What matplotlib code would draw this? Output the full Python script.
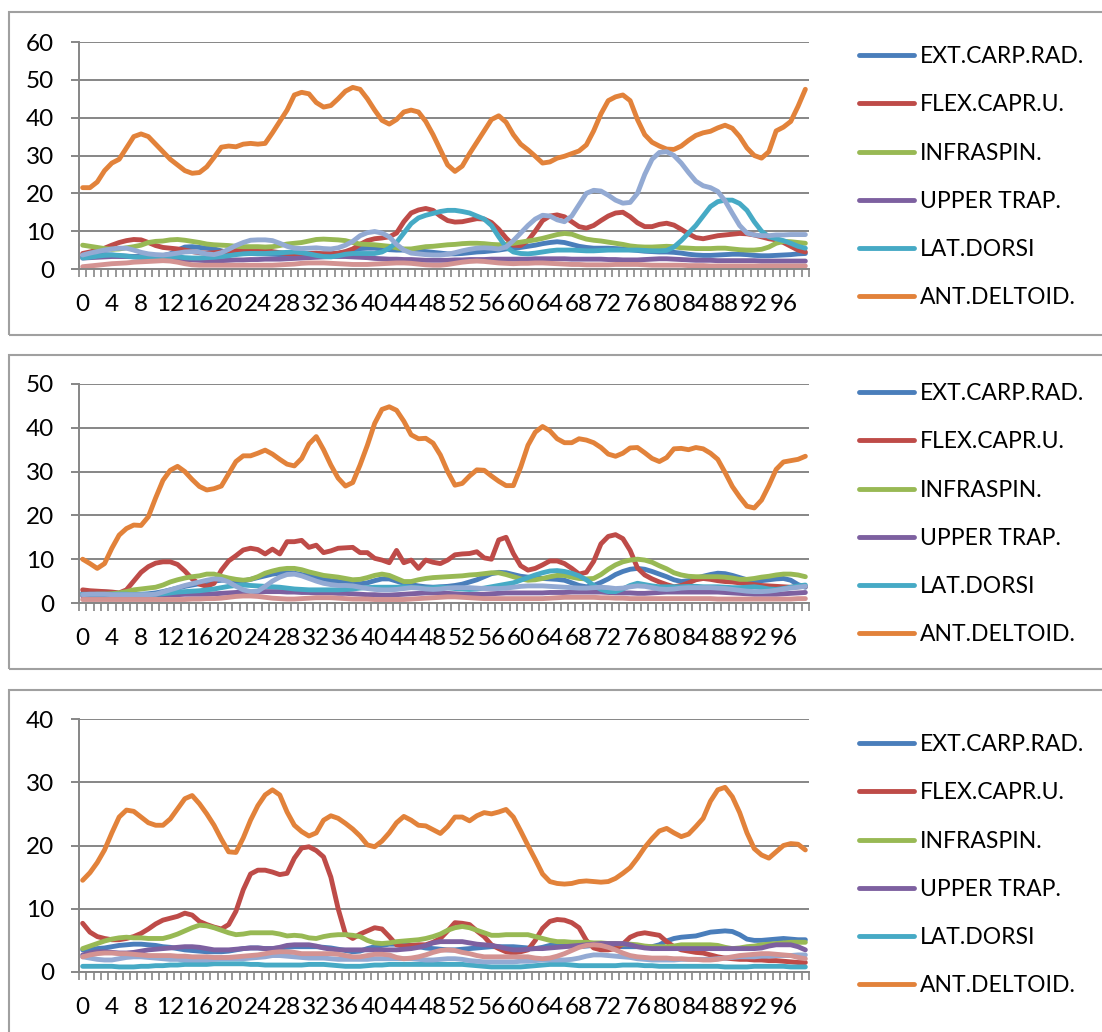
import matplotlib
matplotlib.use("Agg")
import matplotlib.pyplot as plt
from matplotlib.patches import Rectangle
import numpy as np

plt.rcParams['font.family'] = ['Lato', 'DejaVu Sans']

# ---- data ----
samples = list(range(100))
tick_labels = [str(i) for i in range(0, 100, 4)]
muscles = ["EXT.CARP.RAD.", "FLEX.CAPR.U.", "INFRASPIN.", "UPPER TRAP.",
           "LAT.DORSI", "ANT.DELTOID.", "Series7", "Series8"]

# panel 1
p1_ext = [3.3,3.5,3.7,3.8,3.7,3.5,3.4,3.3,3.3,3.3, 3.3,3.5,4,5,5.8,5.9,5.7,5.5,5.3,4.8,
          4.3,4.1,4.1,4.1,4,4,3.9,3.8,3.7,3.7, 3.7,3.8,3.9,4,4,4.1,4.5,5,5.4,5.5,
          5.5,5.3,5.1,5,5,4.9,4.8,4.6,4.4,4.2, 4,4,4.1,4.3,4.5,4.6,4.8,5,5.3,5.5,
          5.7,6,6.3,6.7,7,7.2,7,6.5,6,5.7, 5.5,5.5,5.5,5.4,5.3,5.1,4.9,4.7,4.6,4.5,
          4.5,4.4,4.2,3.9,3.7,3.6,3.6,3.7,3.8,3.9, 3.9,3.8,3.6,3.5,3.5,3.6,3.7,3.8,4,4.1]
p1_flex = [4.1,4.5,5,5.5,6.3,7,7.5,7.8,7.7,7, 6.2,5.7,5.5,5.3,5,4.6,4.3,4.2,4.3,4.5,
           4.8,5,5.2,5.3,5.2,5,4.6,4.3,4.1,4, 4,4.1,4.2,4,4,4.2,4.6,5.3,6.5,7.5,
           8,8.2,8.5,9.5,12.5,14.8,15.6,16,15.5,14, 12.8,12.4,12.5,12.9,13.3,13.2,12.3,10.5,8.2,6.3,
           6.2,7.5,10,12.8,14,14.3,13.8,12.5,11.2,10.8, 11.5,12.8,14,14.8,15,13.8,12.2,11.2,11.2,11.8,
           12.1,11.6,10.5,9.3,8.3,8,8.4,8.8,9,9.2, 9.4,9.3,9,8.5,8,7.7,7,6,5,4.5]
p1_infra = [6.3,6,5.7,5.4,5.2,5.3,5.6,5.9,6.3,7, 7.3,7.4,7.7,7.8,7.6,7.3,7,6.6,6.4,6.3,
            6.2,6,5.9,5.9,5.9,5.8,5.9,6.2,6.6,6.8, 7,7.4,7.8,7.9,7.8,7.7,7.5,7,6.6,6.5,
            6.4,6.2,6,5.6,5.3,5.3,5.6,5.9,6,6.2, 6.4,6.5,6.7,6.8,6.8,6.7,6.5,6.4,6.5,6.8,
            7.1,7.4,7.7,8.1,8.6,9.1,9.4,9.2,8.5,7.9, 7.6,7.4,7.1,6.8,6.5,6.1,5.9,5.8,5.8,5.9,
            6,5.9,5.6,5.5,5.4,5.4,5.4,5.5,5.5,5.3, 5.1,5,5,5.2,5.8,6.8,7.3,7.2,7,6.8]
p1_trap = [2.9,3.0,3.1,3.2,3.3,3.3,3.3,3.2,3.1,3.0, 2.9,2.8,2.7,2.6,2.5,2.4,2.3,2.2,2.2,2.2,
           2.3,2.4,2.4,2.5,2.5,2.6,2.6,2.6,2.7,2.8, 2.9,3.0,3.1,3.2,3.3,3.3,3.3,3.2,3.1,3.0,
           2.8,2.7,2.6,2.6,2.5,2.5,2.4,2.3,2.3,2.3, 2.3,2.4,2.4,2.5,2.5,2.5,2.6,2.6,2.6,2.6,
           2.6,2.6,2.7,2.7,2.7,2.7,2.7,2.6,2.6,2.6, 2.6,2.6,2.5,2.5,2.4,2.4,2.4,2.5,2.6,2.7,
           2.7,2.6,2.5,2.4,2.3,2.3,2.3,2.2,2.2,2.2, 2.2,2.2,2.2,2.1,2.1,2.1,2.1,2.1,2.1,2.1]
p1_dorsi = [2.9,3.1,3.4,3.6,3.7,3.6,3.4,3.2,3.1,3.1, 3.2,3.3,3.3,3.2,3,2.9,2.9,3,3.1,3.3,
            3.5,3.8,4,4.1,4.1,4.1,4.2,4.3,4.4,4.5, 4.3,4,3.6,3.3,3.2,3.5,3.9,4.1,4.1,4.1,
            4.1,4.5,5.5,7,9.5,12,13.5,14.2,14.7,15.2, 15.5,15.5,15.2,14.8,14,13.2,11.5,8.5,5.8,4.5,
            4.1,4,4.2,4.5,4.8,5,5,5,4.9,4.8, 4.8,4.9,5,5,5,5,5,4.9,4.8,4.8,
            4.9,5.8,7.5,9.5,11.5,14,16.5,17.8,18.2,18.2, 17.3,15.5,12.5,10,8.5,8,7.5,6.8,6,5.5]
p1_delt = [21.5,21.5,23,26,28,29,32,35,35.7,35, 33,31,29,27.5,26,25.3,25.5,27,29.5,32.2,
           32.5,32.3,33,33.2,33,33.2,36,39,42,46, 46.7,46.3,44,42.8,43.2,45,47,48,47.5,45,
           42,39.3,38.3,39.5,41.5,42,41.5,39,35.5,31.5, 27.5,25.8,27.2,30.5,33.5,36.5,39.5,40.5,38.8,35.5,
           33,31.5,29.8,28,28.3,29.3,29.8,30.5,31.2,32.8, 36.5,41,44.5,45.5,46,44.5,39.5,35.5,33.5,32.5,
           31.7,31.6,32.5,34,35.3,36,36.4,37.3,38,37.2, 35,32,30,29.3,31,36.5,37.5,39,43,47.5]
p1_s7 = [3.7,4.2,4.6,5,5.3,5.5,5.5,5,4.4,4, 3.8,3.7,3.9,4.2,4.5,4.6,4.4,4,3.8,4.3,
         5.2,6.2,7,7.6,7.7,7.7,7.5,6.8,6,5.5, 5.4,5.5,5.6,5.4,5.3,5.6,6.3,7.3,8.8,9.6,
         9.9,9.5,8.5,6.5,5,4.2,4,3.8,3.7,3.7, 3.9,4.3,4.8,5.2,5.5,5.6,5.5,5.3,5.8,7.5,
         9.5,11.5,13.2,14.2,14,13,12.5,14,17,20, 20.8,20.6,19.5,18.2,17.4,17.6,20,25,29,30.8,
         31,30,28,25.5,23.2,22,21.5,20.5,18,14.7, 11.5,9.5,9,8.8,8.8,9,9,9.1,9.1,9.1]
p1_s8 = [0.6,0.8,1,1.2,1.4,1.5,1.6,1.8,1.9,2, 2.1,2.2,2.1,1.8,1.4,1.1,1,1,1,1,
         1,1,1,1,1,1,1,1.1,1.2,1.3, 1.5,1.6,1.6,1.6,1.5,1.4,1.3,1.2,1.2,1.2,
         1.3,1.4,1.5,1.6,1.6,1.5,1.3,1.1,1,1, 1.2,1.5,1.8,2,2.1,2,1.8,1.6,1.5,1.4,
         1.5,1.5,1.6,1.6,1.5,1.4,1.3,1.2,1.2,1.1, 1.1,1.1,1.1,1.2,1.2,1.2,1.2,1.1,1,1,
         1,1,1,0.9,0.9,0.9,0.8,0.8,0.8,0.8, 0.8,0.8,0.8,0.8,0.8,0.8,0.8,0.8,0.8,0.8]

# panel 2
p2_ext = [2.3,2.4,2.5,2.5,2.4,2.2,2,2,2,2.1, 2.3,2.6,3,3.4,3.8,4.1,4.4,4.7,5,5.2,
          5.2,5.1,5,5.4,5.8,6.2,6.6,6.8,6.9,6.8, 6.5,6.2,5.9,5.5,5.1,4.9,4.7,4.5,4.4,4.6,
          5.1,5.5,5.5,5,4.5,4.2,3.9,3.7,3.6,3.7, 3.8,4,4.3,4.8,5.3,6,6.7,7,6.9,6.5,
          6.1,5.9,5.7,5.6,5.5,5.4,5.2,4.6,4,3.7, 4,4.7,5.5,6.5,7.2,7.7,7.9,7.7,7.2,6.6,
          6,5.3,4.9,5.1,5.6,6.1,6.5,6.8,6.7,6.3, 5.8,5.3,5.1,5.1,5.3,5.5,5.6,5.2,4.2,3.6]
p2_flex = [3,2.8,2.7,2.6,2.5,2.3,3,5,7,8.3, 9.1,9.4,9.4,8.8,7.3,5.5,4.3,3.8,4.5,7.5,
           9.6,10.8,12.1,12.5,12.2,11.2,12.3,11.2,14,14, 14.3,12.7,13.2,11.5,11.9,12.5,12.6,12.7,11.5,11.5,
           10.2,9.8,9.2,12,9.2,9.8,7.9,9.8,9.3,9, 9.8,11,11.2,11.3,11.7,10.3,10,14.4,15,11.3,
           8.5,7.5,7.9,8.7,9.6,9.6,9,7.9,6.6,7, 9.5,13.5,15.2,15.6,14.7,12,8,6.4,5.5,4.8,
           4.2,3.7,4,4.6,5.3,5.6,5.4,5.1,4.9,4.8, 4.6,4.4,4.2,4,3.9,3.8,3.7,3.6,3.7,3.8]
p2_infra = [1.9,1.9,2,2,2.1,2.3,2.6,3,3.2,3.4, 3.6,4.1,4.8,5.3,5.7,6,6.2,6.6,6.6,6.1,
            5.7,5.4,5.2,5.4,6,6.8,7.3,7.7,7.9,7.9, 7.6,7.1,6.7,6.3,6.1,5.9,5.6,5.3,5.4,5.8,
            6.3,6.6,6.3,5.6,4.9,4.9,5.3,5.6,5.8,5.9, 6,6.1,6.2,6.4,6.5,6.7,6.9,6.9,6.5,6,
            5.5,5.2,5.3,5.6,6,6.3,6.3,5.9,5.6,5.5, 5.6,6.5,7.7,8.7,9.4,9.8,10,9.8,9.3,8.5,
            7.8,6.9,6.4,6.1,6,6,6,6,5.9,5.7, 5.4,5.4,5.6,5.9,6.1,6.4,6.6,6.6,6.4,6]
p2_trap = [1.6,1.6,1.6,1.6,1.6,1.6,1.6,1.7,1.7,1.7, 1.8,1.8,1.9,1.9,2.0,2.0,2.0,2.0,2.1,2.2,
           2.3,2.4,2.5,2.5,2.5,2.6,2.6,2.6,2.5,2.5, 2.4,2.4,2.3,2.3,2.3,2.2,2.2,2.1,2.0,1.9,
           1.9,1.8,1.8,1.9,2.0,2.1,2.2,2.3,2.3,2.3, 2.2,2.1,2.0,2.0,2.0,2.0,2.1,2.2,2.3,2.3,
           2.3,2.3,2.3,2.3,2.4,2.4,2.4,2.5,2.5,2.5, 2.5,2.5,2.4,2.3,2.3,2.3,2.2,2.2,2.3,2.4,
           2.5,2.5,2.5,2.5,2.5,2.5,2.5,2.5,2.4,2.3, 2.2,2.1,2.0,2.0,2.0,2.0,2.1,2.2,2.3,2.4]
p2_dorsi = [2,2,2,2,2,2,2,1.9,1.9,1.9, 2,2.1,2.3,2.5,2.6,2.7,2.8,3,3.2,3.5,
            3.8,4,4.1,4,3.9,3.8,3.7,3.6,3.4,3.2, 3.1,3,3,3,3,3,3.1,3.2,3.4,3.5,
            3.6,3.6,3.6,3.6,3.7,3.6,3.5,3.4,3.5,3.6, 3.5,3.3,3.2,3.1,3.2,3.4,3.7,4,4.3,4.6,
            5.2,5.8,6.4,6.9,7.3,7.4,7.2,6.8,6.2,5.3, 4,3.1,2.6,2.6,3.2,4,4.5,4.2,3.9,3.7,
            3.7,3.7,3.7,3.8,3.8,3.7,3.7,3.7,3.6,3.5, 3.5,3.6,3.7,3.5,3.2,3.1,3.3,3.6,3.9,4.1]
p2_delt = [10,9,7.9,9,12.5,15.5,17,17.8,17.7,19.7, 24,28,30.3,31.2,30,28.2,26.6,25.8,26.1,26.7,
           29.5,32.3,33.6,33.6,34.2,34.9,34,32.8,31.7,31.3, 33,36.3,38,35,31.5,28.5,26.7,27.5,31.5,36,
           41,44.2,44.8,44,41.5,38.4,37.5,37.6,36.5,33.8, 30,26.9,27.3,29,30.4,30.3,29,27.8,26.8,26.8,
           31,36,39,40.3,39.3,37.5,36.6,36.6,37.5,37.2, 36.6,35.5,34,33.5,34.2,35.4,35.5,34.3,33,32.3,
           33.2,35.2,35.3,35,35.5,35.2,34.2,32.8,29.8,26.6, 24.2,22.1,21.7,23.5,26.8,30.5,32.2,32.5,32.8,33.5]
p2_s7 = [1.9,2,2,2,1.9,1.9,1.9,1.9,1.9,1.9, 2,2.5,3,3.5,4,4.4,4.8,5.2,5.5,5.4,
         4.8,3.8,3,2.6,2.7,3.8,5,5.9,6.5,6.6, 6.2,5.6,5,4.5,4.2,4,4,3.9,3.6,3.3,
         3.1,3,3,3.1,3.3,3.5,3.4,3.2,3.1,3.2, 3.4,3.5,3.5,3.5,3.4,3.3,3.3,3.3,3.4,3.6,
         3.8,3.9,3.9,3.9,3.8,3.7,3.6,3.5,3.4,3.4, 3.5,3.6,3.5,3.3,3.4,3.7,3.9,3.8,3.5,3.2,
         3.1,3.2,3.4,3.5,3.5,3.5,3.5,3.4,3.3,3.1, 2.9,2.7,2.6,2.6,2.7,2.9,3.2,3.4,3.6,3.8]
p2_s8 = [0.8,0.8,0.8,0.8,0.8,0.8,0.8,0.8,0.8,0.8, 0.8,0.8,0.8,0.8,0.8,0.9,0.9,1.0,1.0,1.1,
         1.3,1.5,1.6,1.6,1.5,1.3,1.1,1.0,0.9,0.9, 1.0,1.1,1.2,1.2,1.2,1.1,1.0,0.9,0.9,0.9,
         0.8,0.8,0.8,0.8,0.8,0.9,1.0,1.1,1.2,1.3, 1.4,1.4,1.3,1.2,1.1,1.0,1.0,1.0,1.0,1.0,
         1.0,1.0,1.0,1.0,1.1,1.2,1.3,1.3,1.3,1.3, 1.3,1.2,1.2,1.1,1.1,1.0,1.0,1.0,1.0,1.0,
         1.0,1.0,1.0,1.0,1.0,1.0,1.0,0.9,0.9,0.9, 0.9,0.9,0.9,0.9,0.9,0.9,0.9,0.9,1.0,1.0]

# panel 3
p3_ext = [3.5,3.6,3.7,3.8,4,4.2,4.3,4.4,4.4,4.3, 4.2,4,3.9,3.7,3.5,3.4,3.3,3.2,3.2,3.2,
          3.3,3.5,3.7,3.8,3.8,3.7,3.7,3.8,3.9,4, 4,4,4,3.9,3.8,3.6,3.4,3.2,3.3,3.7,
          4,4.2,4.4,4.4,4.3,4.2,4,3.8,3.7,3.6, 3.5,3.5,3.6,3.7,3.8,3.9,4,4,4,4,
          3.9,3.8,3.7,3.9,4.2,4.3,4.2,4.1,4,4.1, 4.2,4.3,4.2,4.1,4,4,4,4,4,4.3,
          4.9,5.3,5.5,5.6,5.7,6,6.3,6.4,6.5,6.4, 5.9,5.2,5,5,5.1,5.2,5.3,5.2,5.1,5.1]
p3_flex = [7.7,6.3,5.6,5.3,5.1,5.1,5.3,5.6,6.1,6.8, 7.6,8.2,8.5,8.8,9.3,9,8,7.5,7.1,6.8,
           7.5,9.6,13,15.5,16.1,16.1,15.8,15.4,15.6,18, 19.6,19.8,19.2,18.2,15,10,6,5.3,6,6.5,
           7,6.8,5.6,4.3,4.1,4.2,4.3,4.3,4.7,5.3, 6.5,7.8,7.7,7.5,6.5,5.6,4.3,3.7,3.2,3,
           3.2,3.5,5,6.9,8,8.3,8.2,7.8,7,5, 3.8,3.5,3.5,3.7,4.4,5.5,6,6.2,6,5.8,
           4.8,4,3.5,3.3,3.1,3,2.7,2.4,2.2,2.1, 2,2,1.9,1.9,1.8,1.8,1.7,1.6,1.5,1.5]
p3_infra = [3.7,4.1,4.5,4.9,5.2,5.4,5.5,5.4,5.4,5.3, 5.3,5.3,5.6,6,6.5,7,7.4,7.3,7,6.6,
            6.2,5.9,6,6.2,6.2,6.2,6.2,6,5.7,5.8, 5.7,5.4,5.3,5.6,5.8,5.9,5.9,5.8,5.6,5,
            4.6,4.5,4.6,4.8,4.9,5,5.1,5.3,5.6,6, 6.6,7,7.2,7,6.6,6.2,5.8,5.8,5.9,5.9,
            5.9,5.9,5.6,5.3,5,4.8,4.8,4.7,4.7,4.7, 4.6,4.6,4.5,4.5,4.4,4.4,4.3,4.1,4,4,
            4,4.1,4.3,4.3,4.3,4.3,4.3,4.2,3.9,3.7, 3.8,4,4.1,4.3,4.4,4.5,4.6,4.7,4.7,4.7]
p3_trap = [2.7,3,3.2,3.2,3.1,3,3,3.1,3.3,3.5, 3.6,3.7,3.8,3.9,4,4,3.9,3.7,3.5,3.5,
           3.5,3.6,3.7,3.8,3.8,3.7,3.7,3.9,4.2,4.3, 4.3,4.3,4.1,3.8,3.6,3.5,3.5,3.5,3.5,3.5,
           3.5,3.5,3.5,3.5,3.6,3.7,3.9,4.2,4.6,4.8, 4.8,4.8,4.8,4.6,4.4,4.3,4.2,4,3.7,3.5,
           3.5,3.6,3.7,3.7,3.8,3.9,4,4.1,4.2,4.3, 4.4,4.5,4.5,4.5,4.5,4.3,4,3.8,3.7,3.7,
           3.7,3.7,3.7,3.7,3.7,3.7,3.7,3.7,3.7,3.7, 3.7,3.7,3.7,3.8,4.1,4.3,4.3,4.3,4,3.5]
p3_dorsi = [0.9,0.9,0.9,0.9,0.9,0.8,0.8,0.8,0.9,0.9, 1.0,1.0,1.1,1.1,1.2,1.2,1.2,1.2,1.3,1.3,
            1.3,1.3,1.3,1.2,1.2,1.1,1.1,1.1,1.1,1.1, 1.1,1.2,1.2,1.2,1.1,1.0,0.9,0.9,0.9,1.0,
            1.1,1.1,1.2,1.2,1.2,1.2,1.2,1.2,1.2,1.2, 1.2,1.2,1.2,1.1,1.0,0.9,0.8,0.8,0.8,0.8,
            0.8,0.9,1.0,1.1,1.2,1.2,1.2,1.1,1.0,1.0, 1.0,1.0,1.0,1.0,1.1,1.1,1.1,1.0,1.0,0.9,
            0.9,0.9,0.9,0.9,0.9,0.9,0.9,0.9,0.8,0.8, 0.8,0.8,0.9,0.9,0.9,0.9,0.9,0.8,0.8,0.8]
p3_delt = [14.5,15.7,17.3,19.3,22,24.5,25.6,25.4,24.5,23.6, 23.2,23.2,24.2,25.8,27.4,27.9,26.6,25,23.2,21,
           19,18.9,21.2,24,26.3,28,28.8,28,25.3,23.2, 22.2,21.5,22,24,24.7,24.3,23.5,22.6,21.5,20.1,
           19.8,20.7,22,23.6,24.6,24,23.2,23.1,22.5,21.9, 23,24.5,24.5,23.9,24.7,25.2,25,25.3,25.7,24.5,
           22.3,20,17.8,15.5,14.3,14,13.9,14,14.3,14.4, 14.3,14.2,14.3,14.8,15.6,16.5,18,19.7,21.1,22.3,
           22.7,22,21.4,21.8,23,24.3,27,28.8,29.2,27.7, 25.2,22,19.5,18.5,18,19,20,20.3,20.2,19.3]
p3_s7 = [2.4,2.2,2,1.9,1.9,2.1,2.3,2.4,2.4,2.3, 2.2,2.1,2,2,1.9,1.9,1.9,1.9,2,2.1,
         2.1,2.1,2.1,2.2,2.3,2.4,2.6,2.6,2.5,2.4, 2.3,2.2,2.2,2.2,2.1,2,2,2,2,2,
         2.1,2.1,2.1,2.1,2.1,2.1,2,1.9,1.9,2, 2.1,2.1,2,1.8,1.7,1.6,1.6,1.6,1.6,1.6,
         1.7,1.7,1.8,1.9,1.9,1.9,1.9,2,2.2,2.5, 2.7,2.7,2.6,2.5,2.4,2.3,2.1,2,1.9,1.9,
         1.9,1.9,2,2,2,2,2,2.1,2.2,2.3, 2.4,2.4,2.4,2.5,2.5,2.6,2.6,2.6,2.7,2.7]
p3_s8 = [2.4,2.7,2.9,3,3,2.9,2.9,2.8,2.7,2.6, 2.6,2.6,2.6,2.5,2.5,2.4,2.4,2.4,2.3,2.3,
         2.3,2.4,2.5,2.6,2.7,2.9,3.1,3.2,3.2,3.1, 2.9,2.9,2.9,2.9,2.9,2.8,2.6,2.4,2.4,2.6,
         2.8,2.8,2.7,2.3,2.1,2.2,2.4,2.7,3.1,3.4, 3.5,3.4,3.1,2.9,2.6,2.4,2.4,2.4,2.4,2.4,
         2.4,2.4,2.2,2.1,2.2,2.5,2.9,3.4,3.9,4.2, 4.3,4.2,3.9,3.5,3,2.6,2.4,2.3,2.2,2.2,
         2.2,2.1,2.1,2,2,1.9,1.9,2,2.2,2.4, 2.6,2.7,2.8,2.9,2.9,2.8,2.7,2.6,2.3,2.1]

panels = [
    ([p1_ext, p1_flex, p1_infra, p1_trap, p1_dorsi, p1_delt, p1_s7, p1_s8], 60),
    ([p2_ext, p2_flex, p2_infra, p2_trap, p2_dorsi, p2_delt, p2_s7, p2_s8], 50),
    ([p3_ext, p3_flex, p3_infra, p3_trap, p3_dorsi, p3_delt, p3_s7, p3_s8], 40),
]

# ---- styling ----
colors = ['#4A7EBB', '#BE4B48', '#98B954', '#7D60A0', '#46AAC5', '#E2823A', '#93AAD3', '#D49392']
grid_color = '#868686'
frame_color = '#A0A0A0'
fs = 16.5       # legend
fs_tick = 17.5  # axis numbers
W, H = 1102, 1032

# pixel layout: (axes top, axes bottom, frame top, frame bottom, legend top)
layout = [(42, 269, 12, 335, 46),
          (384, 603, 355, 669, 383),
          (719, 972, 690, 1045, 734)]
ax_left, ax_right = 79, 809

fig = plt.figure(figsize=(W / 100, H / 100), dpi=100)

for (series, ymax), (top, bot, ftop, fbot, ltop) in zip(panels, layout):
    fig.add_artist(Rectangle((9 / W, 1 - fbot / H), 1.2, (fbot - ftop) / H,
                             transform=fig.transFigure, fill=False,
                             edgecolor=frame_color, linewidth=1.5))
    ax = fig.add_axes([ax_left / W, 1 - bot / H, (ax_right - ax_left) / W, (bot - top) / H])

    lines = []
    for vals, c, name in zip(series, colors, muscles):
        ln, = ax.plot(samples, vals, color=c, lw=3.5, label=name,
                      solid_capstyle='round', solid_joinstyle='round')
        lines.append(ln)

    ax.set_xlim(-0.5, 99.5)
    ax.set_ylim(0, ymax)
    ax.set_yticks(np.arange(0, ymax + 1, 10))
    ax.set_xticks(range(0, 100, 4))
    ax.set_xticklabels(tick_labels)
    ax.set_xticks(np.arange(-0.5, 100, 1), minor=True)

    ax.grid(axis='y', color=grid_color, lw=1.4)
    ax.set_axisbelow(True)
    for s in ['top', 'right']:
        ax.spines[s].set_visible(False)
    for s in ['left', 'bottom']:
        ax.spines[s].set_color(grid_color)
        ax.spines[s].set_linewidth(1.4)

    ax.tick_params(axis='y', direction='out', length=6, width=1.4, color=grid_color,
                   pad=12, labelsize=fs_tick)
    ax.tick_params(axis='x', which='major', length=0, pad=18, labelsize=fs_tick)
    ax.tick_params(axis='x', which='minor', direction='out', length=6, width=1.2,
                   color=grid_color)

    fig.legend(lines[:6], muscles[:6], loc='upper left',
               bbox_to_anchor=(859 / W, 1 - ltop / H), frameon=False, fontsize=fs,
               handlelength=2.4, handletextpad=0.25, labelspacing=1.19,
               borderpad=0, borderaxespad=0)

fig.savefig('out.png', dpi=100)
